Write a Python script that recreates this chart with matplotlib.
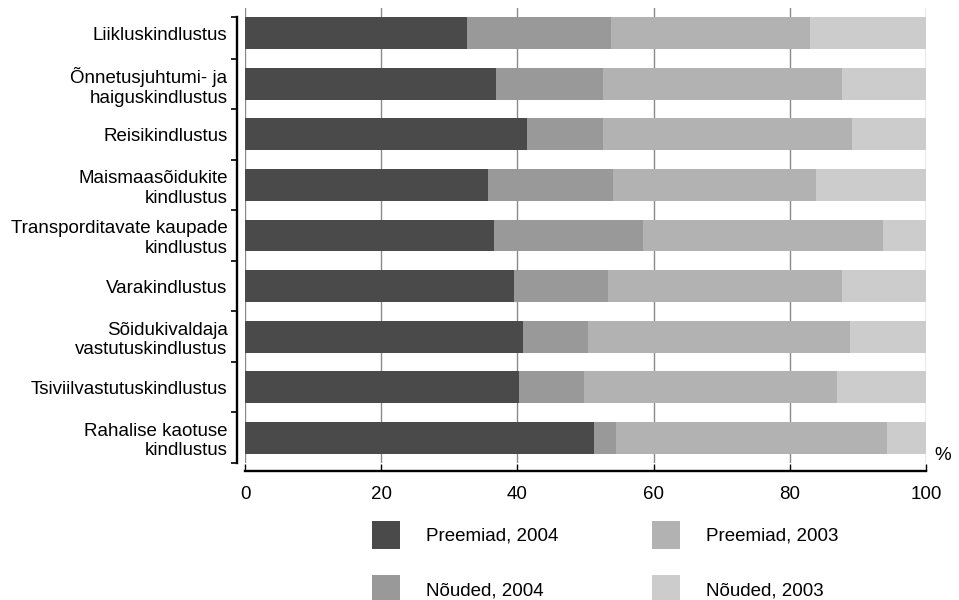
import numpy as np
import matplotlib
matplotlib.use("Agg")
import matplotlib.pyplot as plt
from matplotlib.ticker import FixedLocator

plt.rcParams['font.family'] = ['Liberation Sans', 'DejaVu Sans']
plt.rcParams['font.size'] = 13.5

# kategooriad (ülevalt alla)
categories = ["Liikluskindlustus",
              "Õnnetusjuhtumi- ja\nhaiguskindlustus",
              "Reisikindlustus",
              "Maismaasõidukite\nkindlustus",
              "Transporditavate kaupade\nkindlustus",
              "Varakindlustus",
              "Sõidukivaldaja\nvastutuskindlustus",
              "Tsiviilvastutuskindlustus",
              "Rahalise kaotuse\nkindlustus"]

# osakaalud, %
preemiad_2004 = [32.6, 36.9, 41.4, 35.7, 36.6, 39.5, 40.8, 40.3, 51.2]
nouded_2004 = [21.2, 15.7, 11.1, 18.4, 21.8, 13.8, 9.5, 9.5, 3.3]
preemiad_2003 = [29.2, 35.0, 36.7, 29.8, 35.3, 34.3, 38.5, 37.2, 39.7]
nouded_2003 = [17.0, 12.4, 10.8, 16.1, 6.3, 12.4, 11.2, 13.0, 5.8]

series = [("Preemiad, 2004", preemiad_2004, "#4a4a4a"),
          ("Nõuded, 2004", nouded_2004, "#999999"),
          ("Preemiad, 2003", preemiad_2003, "#b2b2b2"),
          ("Nõuded, 2003", nouded_2003, "#cccccc")]

fig = plt.figure(figsize=(9.59, 6.0), dpi=100)
W, H = 959, 600
ax = fig.add_axes([245 / W, 1 - 463 / H, (926 - 245) / W, (463 - 8) / H])

y = np.arange(len(categories))
left = np.zeros(len(categories))
for name, vals, col in series:
    vals = np.array(vals)
    ax.barh(y, vals, left=left, height=0.63, color=col, label=name, zorder=2)
    left += vals

ax.set_xlim(0, 100)
ax.set_ylim(8.5, -0.5)
ax.set_xticks(np.arange(0, 101, 20))
ax.grid(axis='x', color='#8a8a8a', linewidth=1.0, zorder=0)
ax.set_axisbelow(True)

ax.set_yticks(y)
ax.set_yticklabels(categories, ha='right')
ax.yaxis.set_minor_locator(FixedLocator([-0.32] + list(np.arange(0.5, 9, 1.0))))
ax.tick_params(axis='y', which='major', length=0, pad=6.6)
ax.tick_params(axis='y', which='minor', length=4, width=1.2, direction='out')
ax.tick_params(axis='x', which='major', length=5, width=1, direction='in', pad=10.5)

for s in ['top', 'right']:
    ax.spines[s].set_visible(False)
ax.spines['left'].set_position(('outward', 6))
ax.spines['bottom'].set_position(('outward', 6))
ax.spines['left'].set_linewidth(1.7)
ax.spines['bottom'].set_linewidth(1.7)
ax.spines['left'].set_bounds(-0.32, 8.5)
ax.spines['bottom'].set_bounds(0, 100)

fig.text(943 / W, 1 - 456 / H, "%", ha='center', va='center')

handles, labels = ax.get_legend_handles_labels()
fig.legend(handles, labels, ncol=2, loc='upper left',
           bbox_to_anchor=(372 / W, 1 - 521 / H), frameon=False,
           borderpad=0, borderaxespad=0, handlelength=1.49, handleheight=1.92,
           handletextpad=1.39, labelspacing=1.39, columnspacing=5.0)

fig.savefig("out.png", dpi=100)
